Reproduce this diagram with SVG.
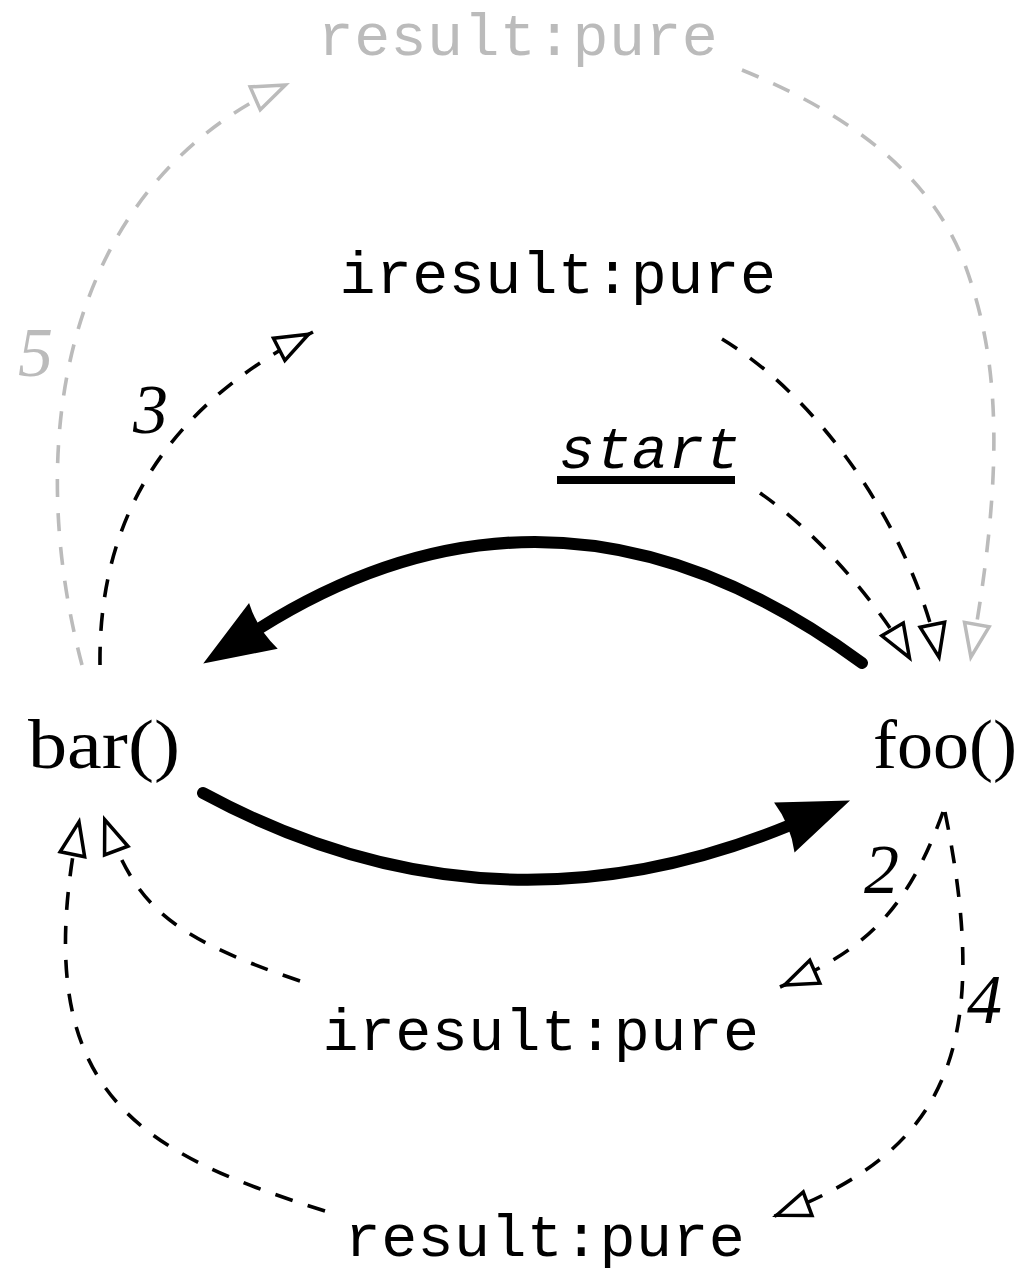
<svg xmlns="http://www.w3.org/2000/svg" width="1019" height="1273" viewBox="0 0 1019 1273">
  <style>
    .tt { font-family: "Liberation Mono", "DejaVu Sans Mono", monospace; font-size: 60px; letter-spacing: 0.4px; text-anchor: middle; fill: #000; }
    .rm { font-family: "Liberation Serif", "DejaVu Serif", serif; font-size: 70px; fill: #000; }
    .num { font-family: "Liberation Serif", "DejaVu Serif", serif; font-style: italic; font-size: 70px; fill: #000; }
    .grey { fill: #bbbbbb; }
    .dash { fill: none; stroke: #000; stroke-width: 3.6; stroke-dasharray: 18 16; }
    .dash.g { stroke: #bbbbbb; }
    .thick { fill: none; stroke: #000; stroke-width: 12; stroke-linecap: round; }
  </style>
  <defs>
    <!-- open triangle head, tip at the path end -->
    <marker id="open" viewBox="-44 -17 46 34" refX="0" refY="0" markerWidth="46" markerHeight="34" markerUnits="userSpaceOnUse" orient="auto">
      <path d="M-5,0 L-38,-12.5 L-38,12.5 Z" fill="#fff" stroke="#000" stroke-width="3.5" stroke-dasharray="none"/>
    </marker>
    <marker id="open-grey" viewBox="-44 -17 46 34" refX="0" refY="0" markerWidth="46" markerHeight="34" markerUnits="userSpaceOnUse" orient="auto">
      <path d="M-5,0 L-38,-12.5 L-38,12.5 Z" fill="#fff" stroke="#bbbbbb" stroke-width="3.5" stroke-dasharray="none"/>
    </marker>
    <!-- filled head for the call arcs, base at the path end -->
    <marker id="solid" viewBox="-2 -30 76 60" refX="4" refY="0" markerWidth="76" markerHeight="60" markerUnits="userSpaceOnUse" orient="auto">
      <path d="M71,0 L0,-27 Q7,0 0,27 Z" fill="#000"/>
    </marker>
  </defs>

  <g id="connectors">
    <!-- calls between bar() and foo() -->
    <path class="thick" d="M862,663 Q560,440 260,628" marker-end="url(#solid)"/>
    <path class="thick" d="M203,793 Q490,948 788,826" marker-end="url(#solid)"/>

    <!-- bar() to iresult:pure (3) -->
    <path class="dash" d="M100,665 C98,495 190,395 313,332" marker-end="url(#open)"/>
    <!-- iresult:pure to foo() -->
    <path class="dash" d="M722,339 C824,401 914,535 940,662" marker-end="url(#open)"/>
    <!-- start to foo() -->
    <path class="dash" d="M760,493 C826,539 881,610 912,662" marker-end="url(#open)"/>
    <!-- bar() to result:pure (5) -->
    <path class="dash g" d="M82,665 C20,430 70,180 290,83" marker-end="url(#open-grey)"/>
    <!-- result:pure to foo() -->
    <path class="dash g" d="M742,70 C840,110 930,170 965,265 S1005,470 970,662" marker-end="url(#open-grey)"/>
    <!-- foo() to iresult:pure (2) -->
    <path class="dash" d="M943,812 C905.6,915.4 861.9,951 780,987" marker-end="url(#open)"/>
    <!-- foo() to result:pure (4) -->
    <path class="dash" d="M945,812 C995,1057 941,1154 772,1217" marker-end="url(#open)"/>
    <!-- iresult:pure to bar() -->
    <path class="dash" d="M300,981 C157.5,933 134.5,899.6 103,815" marker-end="url(#open)"/>
    <!-- result:pure to bar() -->
    <path class="dash" d="M325,1211 C135,1151 24,1091 80,817" marker-end="url(#open)"/>

    <g id="edge-labels">
      <text class="num grey" x="18" y="376">5</text>
      <text class="num" x="133" y="433">3</text>
      <text class="num" x="864" y="893">2</text>
      <text class="num" x="967" y="1023">4</text>
    </g>
  </g>

  <g id="node-bar">
    <text class="rm" x="28" y="768" textLength="152" lengthAdjust="spacingAndGlyphs">bar()</text>
  </g>
  <g id="node-foo">
    <text class="rm" x="873" y="768" textLength="144" lengthAdjust="spacingAndGlyphs">foo()</text>
  </g>
  <g id="node-result-top">
    <text class="tt grey" x="518" y="55">result:pure</text>
  </g>
  <g id="node-iresult-top">
    <text class="tt" x="558" y="293">iresult:pure</text>
  </g>
  <g id="node-start">
    <text class="tt" x="650" y="468" font-style="italic">start</text>
    <rect x="557" y="476" width="178" height="8" fill="#000"/>
  </g>
  <g id="node-iresult-bottom">
    <text class="tt" x="541" y="1050">iresult:pure</text>
  </g>
  <g id="node-result-bottom">
    <text class="tt" x="545" y="1256">result:pure</text>
  </g>
</svg>
